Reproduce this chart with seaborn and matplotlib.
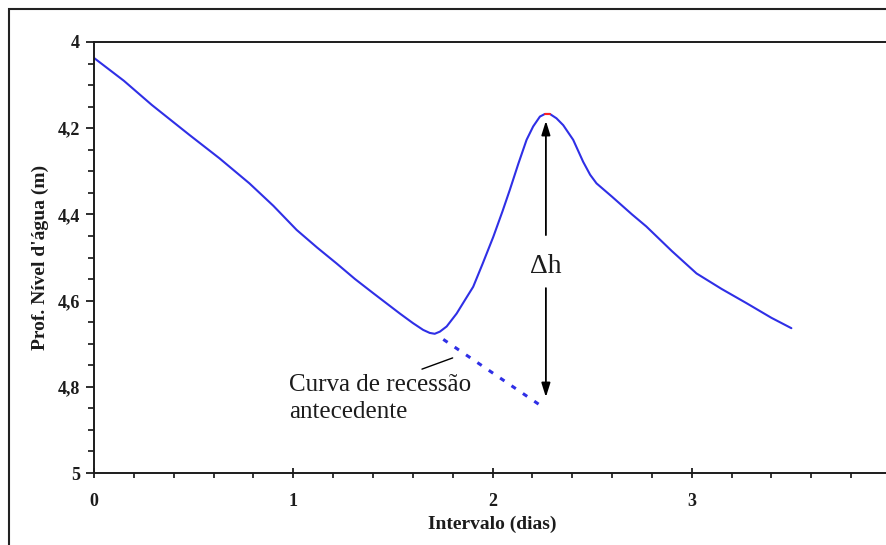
import numpy as np
import pandas as pd
import matplotlib
matplotlib.use("Agg")
import matplotlib.pyplot as plt
from matplotlib.patches import Rectangle
from matplotlib.ticker import MultipleLocator, FixedLocator, FixedFormatter
import seaborn as sns

# ---- data ----
intervalo = [0.00, 0.15, 0.29, 0.48, 0.63, 0.78, 0.90, 1.017, 1.12, 1.218, 1.31, 1.402,
             1.535, 1.60, 1.652, 1.685, 1.71, 1.736, 1.77, 1.82, 1.86, 1.903, 1.95, 2.004,
             2.05, 2.087, 2.13, 2.171, 2.204, 2.238, 2.263, 2.288, 2.321, 2.355, 2.405,
             2.455, 2.49, 2.522, 2.60, 2.70, 2.772, 2.90, 3.024, 3.15, 3.275, 3.40, 3.50]
profundidade = [4.037, 4.090, 4.146, 4.216, 4.270, 4.328, 4.380, 4.436, 4.477, 4.514, 4.550, 4.583,
                4.630, 4.652, 4.668, 4.675, 4.677, 4.672, 4.660, 4.630, 4.600, 4.568, 4.515, 4.452,
                4.393, 4.343, 4.282, 4.227, 4.196, 4.173, 4.167, 4.167, 4.177, 4.193, 4.227,
                4.278, 4.308, 4.328, 4.359, 4.400, 4.428, 4.485, 4.537, 4.573, 4.606, 4.640, 4.664]

recessao_x = [1.753, 2.256]
recessao_y = [4.690, 4.848]

pico_x = [2.263, 2.288]
pico_y = [4.167, 4.167]

delta_x = 2.268
delta_topo = 4.183
delta_base = 4.824

x_ticks = [0, 1, 2, 3, 4]
x_ticklabels = ["0", "1", "2", "3", "4"]
y_ticks = [4.0, 4.2, 4.4, 4.6, 4.8, 5.0]
y_ticklabels = ["4", "4,2", "4,4", "4,6", "4,8", "5"]

# ---- style ----
sns.set_theme(style="ticks")
plt.rcParams['font.family'] = ['Liberation Serif', 'DejaVu Serif']
plt.rcParams['axes.unicode_minus'] = False

W, H = 886, 545
fig = plt.figure(figsize=(W / 100, H / 100), dpi=100)
fig.patch.set_facecolor("white")
ax = fig.add_axes([94 / W, (H - 473) / H, 797 / W, 431 / H])
ax.set_facecolor("white")

blue = "#2f2fe6"
ink = "#1c1c1c"

df = pd.DataFrame({"Intervalo": intervalo, "Prof": profundidade})
sns.lineplot(data=df, x="Intervalo", y="Prof", sort=False, color=blue, lw=1.5, ax=ax)

df_r = pd.DataFrame({"Intervalo": recessao_x, "Prof": recessao_y})
sns.lineplot(data=df_r, x="Intervalo", y="Prof", sort=False, color=blue, lw=2.2,
             linestyle=(0, (1.7, 2.8)), ax=ax)

df_p = pd.DataFrame({"Intervalo": pico_x, "Prof": pico_y})
sns.lineplot(data=df_p, x="Intervalo", y="Prof", sort=False, color="#ff2020", lw=1.5, ax=ax)

ax.set_xlim(0, 4)
ax.set_ylim(5, 4)

# Delta h arrows
ax.annotate("", xy=(delta_x, delta_topo), xytext=(delta_x, 4.448),
            arrowprops=dict(arrowstyle="-|>,head_length=0.7,head_width=0.22",
                            color="black", lw=1.3, shrinkA=0, shrinkB=0), zorder=5)
ax.annotate("", xy=(delta_x, delta_base), xytext=(delta_x, 4.571),
            arrowprops=dict(arrowstyle="-|>,head_length=0.7,head_width=0.22",
                            color="black", lw=1.3, shrinkA=0, shrinkB=0), zorder=5)
ax.text(delta_x, 4.522, "Δh", ha="center", va="center", fontsize=20, color=ink)

# Annotation for recession curve
ax.plot([1.646, 1.80], [4.759, 4.733], color="black", lw=1.0)
ax.text(0.978, 4.771, "Curva de recessão\nantecedente", ha="left", va="top",
        fontsize=18, color=ink, linespacing=1.3)

# ticks
ax.xaxis.set_major_locator(FixedLocator(x_ticks))
ax.xaxis.set_major_formatter(FixedFormatter(x_ticklabels))
ax.xaxis.set_minor_locator(MultipleLocator(0.2))
ax.yaxis.set_major_locator(FixedLocator(y_ticks))
ax.yaxis.set_major_formatter(FixedFormatter(y_ticklabels))
ax.yaxis.set_minor_locator(MultipleLocator(0.05))

ax.tick_params(axis="x", which="major", direction="inout", length=7.5, width=1.3,
               pad=11, labelsize=13, colors=ink)
ax.tick_params(axis="x", which="minor", direction="out", length=3.8, width=1.3)
ax.tick_params(axis="y", which="major", direction="out", length=5.5, width=1.3,
               pad=4.5, labelsize=13, colors=ink)
ax.tick_params(axis="y", which="minor", direction="out", length=4.0, width=1.3)
for lab in ax.get_xticklabels() + ax.get_yticklabels():
    lab.set_fontweight("bold")

for s in ax.spines.values():
    s.set_visible(True)
    s.set_color(ink)
    s.set_linewidth(1.4)

ax.set_xlabel("Intervalo (dias)", fontsize=14, fontweight="bold", color=ink)
ax.set_ylabel("Prof. Nível d'água (m)", fontsize=14, fontweight="bold", color=ink)
ax.xaxis.set_label_coords(0.5, -0.098)
ax.yaxis.set_label_coords(-0.056, 0.5)

# outer frame (partially off-canvas)
fig.patches.append(Rectangle((9 / W, -0.2), 1.5, 1.2 - 9 / H, transform=fig.transFigure,
                             fill=False, edgecolor="#222222", lw=1.5))

fig.savefig("out.png", dpi=100, facecolor="white")
